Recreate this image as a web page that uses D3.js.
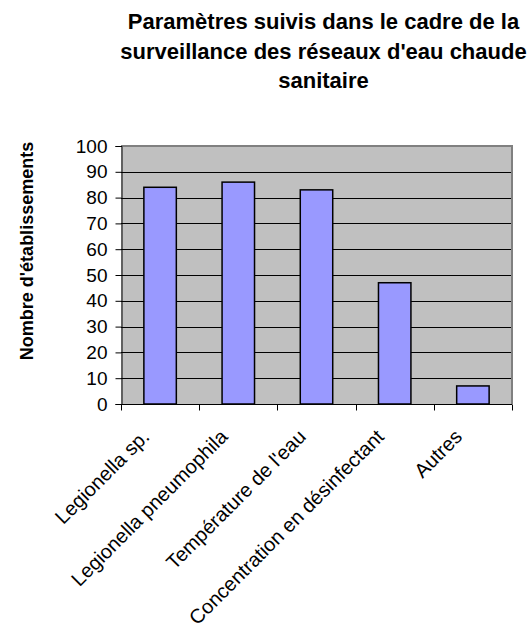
<!DOCTYPE html>
<html>
<head>
<meta charset="utf-8">
<script src="https://cdn.jsdelivr.net/npm/d3@7"></script>
<style>
  html, body { margin: 0; padding: 0; background: #ffffff; }
  svg { display: block; font-family: "Liberation Sans", Arial, sans-serif; }
</style>
</head>
<body>
<svg id="chart" width="531" height="628"></svg>
<script>
const titleLines = ["Paramètres suivis dans le cadre de la", "surveillance des réseaux d'eau chaude", "sanitaire"];
const yAxisLabel = "Nombre d'établissements";
const categories = ["Legionella sp.", "Legionella pneumophila", "Température de l'eau", "Concentration en désinfectant", "Autres"];
const values = [84, 86, 83, 47, 7];
const yTicks = [0, 10, 20, 30, 40, 50, 60, 70, 80, 90, 100];

const svg = d3.select("#chart");
const plot = { left: 121, right: 512, top: 146, bottom: 404 };

const x = d3.scaleBand().domain(categories).range([plot.left, plot.right]).paddingInner(0.585).paddingOuter(0.2925);
const y = d3.scaleLinear().domain([0, 100]).range([plot.bottom, plot.top]);

// plot background
svg.append("rect")
  .attr("x", plot.left).attr("y", plot.top)
  .attr("width", plot.right - plot.left).attr("height", plot.bottom - plot.top)
  .attr("fill", "#c0c0c0");

// gridlines
svg.append("g").selectAll("line").data(yTicks.filter(d => d > 0 && d < 100)).join("line")
  .attr("x1", plot.left).attr("x2", plot.right)
  .attr("y1", d => Math.round(y(d)) + 0.5).attr("y2", d => Math.round(y(d)) + 0.5)
  .attr("stroke", "#000").attr("stroke-width", 1);

// plot border (top & right, gray)
svg.append("path")
  .attr("d", `M${plot.left},${plot.top}H${plot.right}V${plot.bottom}`)
  .attr("fill", "none").attr("stroke", "#808080").attr("stroke-width", 2);

// bars
svg.append("g").selectAll("rect").data(values).join("rect")
  .attr("x", (d, i) => x(categories[i]))
  .attr("y", d => y(d))
  .attr("width", x.bandwidth())
  .attr("height", d => y(0) - y(d))
  .attr("fill", "#9999ff").attr("stroke", "#000").attr("stroke-width", 1.5);

// y axis
const yAxis = d3.axisLeft(y).tickValues(yTicks).tickSize(6).tickPadding(8);
const gy = svg.append("g").attr("transform", `translate(${plot.left + 0.5},0)`).call(yAxis);
gy.select(".domain").attr("stroke", "#000");
gy.selectAll(".tick line").attr("stroke", "#000");
gy.selectAll(".tick text").attr("font-size", 19).attr("fill", "#000")
  .attr("font-family", "Liberation Sans, Arial, sans-serif");

// x axis
const xAxis = d3.axisBottom(x).tickSize(0).tickFormat("");
const gx = svg.append("g").attr("transform", `translate(0,${plot.bottom + 0.5})`).call(xAxis);
gx.select(".domain").attr("stroke", "#000").attr("d", `M${plot.left},0H${plot.right}`);
// category boundary ticks
const bounds = categories.map(c => x(c) - x.step() * x.paddingInner() / 2);
bounds.push(plot.right);
bounds[0] = plot.left;
gx.selectAll(".bt").data(bounds).join("line").attr("class", "bt")
  .attr("x1", d => Math.round(d) + 0.5).attr("x2", d => Math.round(d) + 0.5)
  .attr("y1", 0).attr("y2", 6).attr("stroke", "#000");

// category labels
svg.append("g").selectAll("text").data(categories).join("text")
  .attr("transform", d => `translate(${x(d) + x.bandwidth() / 2 - 9.5},438) rotate(-45)`)
  .attr("text-anchor", "end")
  .attr("font-size", 20)
  .attr("fill", "#000")
  .text(d => d);

// title
svg.append("g").selectAll("text").data(titleLines).join("text")
  .attr("x", 323.5)
  .attr("y", (d, i) => 29.2 + i * 29.6)
  .attr("text-anchor", "middle")
  .attr("font-size", 22).attr("font-weight", "bold").attr("fill", "#000")
  .text(d => d);

// y axis label
svg.append("text")
  .attr("transform", "translate(33,251) rotate(-90)")
  .attr("text-anchor", "middle")
  .attr("font-size", 18).attr("font-weight", "bold").attr("fill", "#000")
  .text(yAxisLabel);
</script>
</body>
</html>
